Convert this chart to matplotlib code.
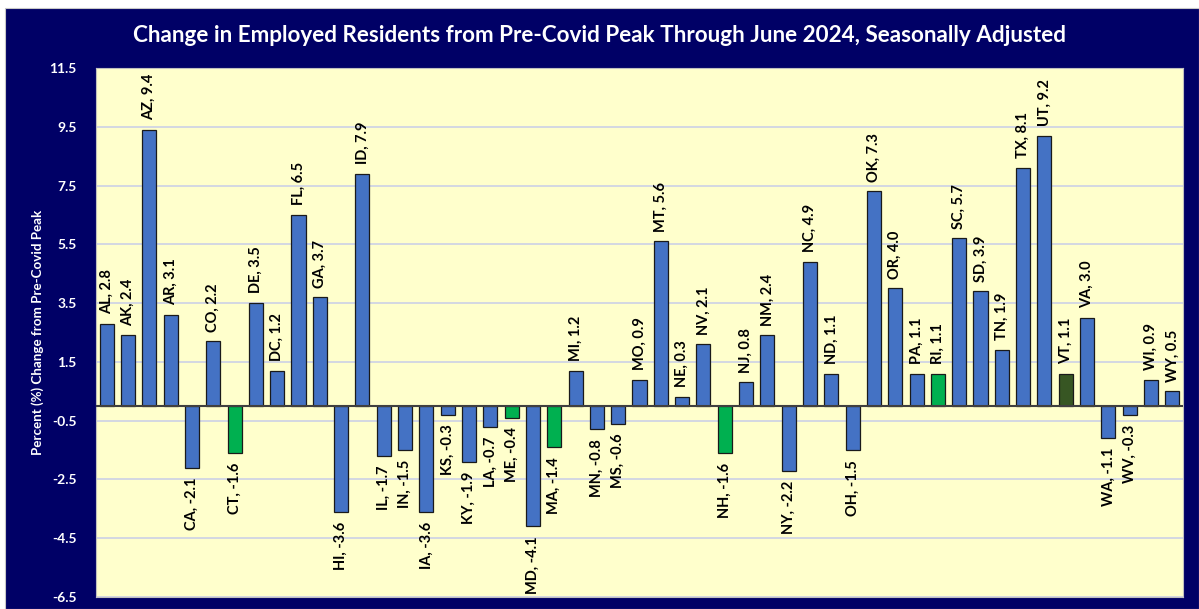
import matplotlib
matplotlib.use("Agg")
import matplotlib.pyplot as plt
from matplotlib.patches import Rectangle

states = ["AL","AK","AZ","AR","CA","CO","CT","DE","DC","FL","GA","HI","ID","IL","IN","IA","KS","KY",
          "LA","ME","MD","MA","MI","MN","MS","MO","MT","NE","NV","NH","NJ","NM","NY","NC","ND","OH",
          "OK","OR","PA","RI","SC","SD","TN","TX","UT","VT","VA","WA","WV","WI","WY"]
values = [2.8,2.4,9.4,3.1,-2.1,2.2,-1.6,3.5,1.2,6.5,3.7,-3.6,7.9,-1.7,-1.5,-3.6,-0.3,-1.9,
          -0.7,-0.4,-4.1,-1.4,1.2,-0.8,-0.6,0.9,5.6,0.3,2.1,-1.6,0.8,2.4,-2.2,4.9,1.1,-1.5,
          7.3,4.0,1.1,1.1,5.7,3.9,1.9,8.1,9.2,1.1,3.0,-1.1,-0.3,0.9,0.5]
new_england = ["CT","ME","MA","NH","RI"]
highlight = ["VT"]
yticks = [-6.5,-4.5,-2.5,-0.5,1.5,3.5,5.5,7.5,9.5,11.5]

W, H = 1199, 609
fig = plt.figure(figsize=(W/100, H/100), dpi=100, facecolor="white")
navy = "#000066"
fig.patches.append(Rectangle((5/W, 0), 1 - 5/W, 1 - 8/H, transform=fig.transFigure,
                             facecolor=navy, edgecolor="#c8c8c8", linewidth=0.8, zorder=-5))

left, right, top, bottom = 96, 1183, 68, 597
ax = fig.add_axes([left/W, 1 - bottom/H, (right-left)/W, (bottom-top)/H])
ax.set_zorder(2)
ax.set_facecolor("#FFFFCC")

colors = []
for s in states:
    if s in highlight:
        colors.append("#375623")
    elif s in new_england:
        colors.append("#00B050")
    else:
        colors.append("#4472C4")

x = list(range(len(states)))
ax.bar(x, values, width=0.66, color=colors, edgecolor="#1a1a1a", linewidth=0.9, zorder=3)
ax.axhline(0, color="#404040", linewidth=1.5, zorder=4)

ax.set_xlim(-0.5, len(states) - 0.5)
ax.set_ylim(-6.5, 11.5)
ax.set_yticks(yticks)
ax.set_yticklabels([f"{t:.1f}" for t in yticks], color="white", fontweight="bold",
                   fontsize=10, family="Lato")
ax.set_xticks([])
ax.tick_params(axis="y", length=0, pad=14)
ax.grid(axis="y", color="#D0D4E4", linewidth=1.3, zorder=0)
ax.set_axisbelow(True)
for sp in ax.spines.values():
    sp.set_color("#bfbfbf")
    sp.set_linewidth(0.8)

for xi, s, v in zip(x, states, values):
    if v >= 0:
        ax.annotate(f"{s}, {v:.1f}", (xi, v), xytext=(0, 7), textcoords="offset points",
                    rotation=90, ha="center", va="bottom", fontsize=10.5, fontweight="bold",
                    family="Lato", color="black", zorder=5)
    else:
        ax.annotate(f"{s}, {v:.1f}", (xi, v), xytext=(0, -7), textcoords="offset points",
                    rotation=90, ha="center", va="top", fontsize=10.5, fontweight="bold",
                    family="Lato", color="black", zorder=5)

ax.set_ylabel("Percent (%) Change from Pre-Covid Peak", color="white", fontsize=9.6,
              fontweight="bold", family="Lato")
ax.yaxis.set_label_coords(-58/1087, 0.5)
ax.yaxis.label.set_va("center")

fig.text(0.5, 1 - 36/H, "Change in Employed Residents from Pre-Covid Peak Through June 2024, Seasonally Adjusted",
         ha="center", va="center", color="white", fontsize=16.2, fontweight="bold", family="Lato")

fig.savefig("out.png", dpi=100, facecolor=fig.get_facecolor())
